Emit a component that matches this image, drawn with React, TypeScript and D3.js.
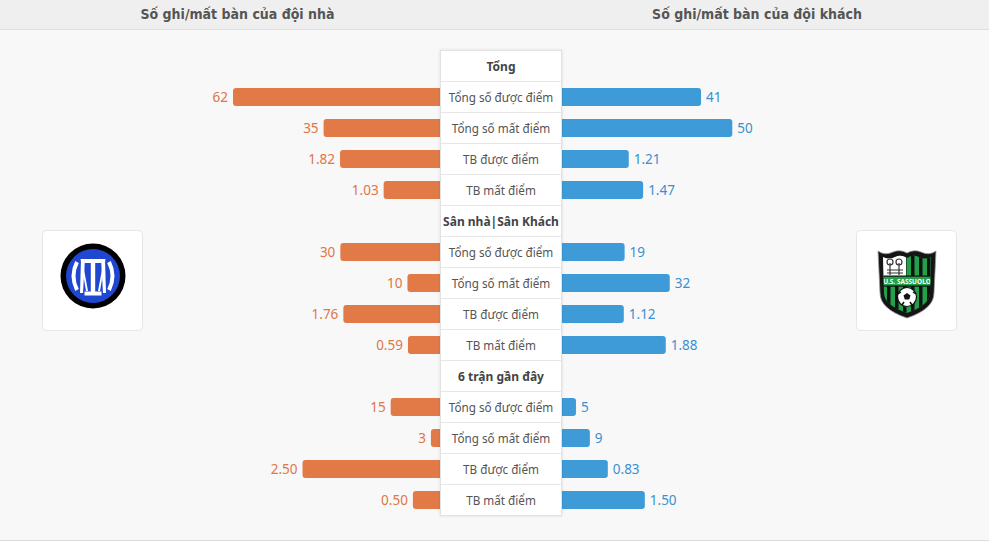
import React from "react";
import * as d3 from "d3";

const W = 989;
const H = 542;

const headerTitles = ["Số ghi/mất bàn của đội nhà", "Số ghi/mất bàn của đội khách"];
const sectionTitles = ["Tổng", "Sân nhà|Sân Khách", "6 trận gần đây"];
const metricLabels = ["Tổng số được điểm", "Tổng số mất điểm", "TB được điểm", "TB mất điểm"];
const metricIsAverage = [false, false, true, true];

const homeTotal = [62, 35, 1.82, 1.03];
const homeHomeAway = [30, 10, 1.76, 0.59];
const homeLast6 = [15, 3, 2.5, 0.5];
const awayTotal = [41, 50, 1.21, 1.47];
const awayHomeAway = [19, 32, 1.12, 1.88];
const awayLast6 = [5, 9, 0.83, 1.5];

const homeSections = [homeTotal, homeHomeAway, homeLast6];
const awaySections = [awayTotal, awayHomeAway, awayLast6];

const ORANGE = "#e27a48";
const ORANGE_TEXT = "#df7646";
const BLUE = "#3e9bd8";
const BLUE_TEXT = "#3a90d0";

const BOX_L = 440.5;
const BOX_R = 561.5;
const BOX_TOP = 50.5;
const ROW_H = 31;
const BAR_H = 18;

// scales (count values vs. averages)
const homeCountX = d3.scaleLinear().domain([0, 62]).range([441, 233]);
const awayCountX = d3.scaleLinear().domain([0, 50]).range([558.6, 732.3]);
const homeAvgX = d3.scaleLinear().domain([0, 2.5]).range([440.5, 302.5]);
const awayAvgX = d3.scaleLinear().domain([0, 2]).range([562, 672.4]);

const rowY = d3
  .scaleLinear()
  .domain([0, 1])
  .range([BOX_TOP, BOX_TOP + ROW_H]);

const FONT = "'Noto Sans', 'DejaVu Sans', sans-serif";

function InterLogo({ cx, cy }: { cx: number; cy: number }) {
  return (
    <g transform={`translate(${cx},${cy})`}>
      <circle r={32.5} fill="#000" />
      <circle r={27} fill="#1f47cf" />
      {/* central I */}
      <rect x={-8.5} y={-17} width={17} height={4} fill="#fff" />
      <rect x={-2.2} y={-17} width={4.4} height={36} fill="#fff" />
      <rect x={-8.5} y={15.5} width={17} height={4} fill="#fff" />
      {/* M diagonals */}
      <path d="M-11,-17 L-12.5,-17 L-7,15 L-5,15 Z" fill="#fff" />
      <path d="M11,-17 L12.5,-17 L7,15 L5,15 Z" fill="#fff" />
      <path d="M-12,-17 L-8,-17 L-10,17 L-13,17 Z" fill="#fff" />
      <path d="M12,-17 L8,-17 L10,17 L13,17 Z" fill="#fff" />
      {/* outer curved strokes */}
      <path d="M-16,-14 Q-23,0 -16,14" stroke="#fff" strokeWidth={4} fill="none" />
      <path d="M16,-14 Q23,0 16,14" stroke="#fff" strokeWidth={4} fill="none" />
    </g>
  );
}

function SassuoloLogo({ cx, cy }: { cx: number; cy: number }) {
  const shield =
    "M-29,-30 Q-22,-25 -14,-29 Q-7,-32 0,-28 Q7,-32 14,-29 Q22,-25 29,-30 L27,12 Q27,28 0,37 Q-27,28 -27,12 Z";
  const inner =
    "M-24,-24 Q-18,-21 -12,-24 Q-6,-27 0,-23 Q6,-27 12,-24 Q18,-21 24,-24 L23,12 Q23,24 0,32 Q-23,24 -23,12 Z";
  const stripes = [-20, -12, -4, 4, 12, 20];
  return (
    <g transform={`translate(${cx},${cy})`}>
      <path d={shield} fill="#151515" stroke="#9a9a9a" strokeWidth={0.8} />
      <clipPath id="sasClip">
        <path d={inner} />
      </clipPath>
      <g clipPath="url(#sasClip)">
        <rect x={-25} y={-30} width={50} height={64} fill="#23a04b" />
        {stripes.map((s, i) => (
          <rect key={i} x={s} y={-30} width={3.5} height={64} fill="#111" />
        ))}
        <rect x={-25} y={-30} width={24} height={25} fill="#fff" />
        <path d="M-17,-18 L-17,-6 M-8,-18 L-8,-6 M-20,-8 L-4,-8 M-20,-11 L-4,-11" stroke="#333" strokeWidth={1.2} />
        <circle cx={-17} cy={-19} r={3} fill="none" stroke="#333" strokeWidth={1.2} />
        <circle cx={-8} cy={-19} r={3} fill="none" stroke="#333" strokeWidth={1.2} />
        <rect x={-25} y={-5} width={50} height={10} fill="#23a04b" />
        <rect x={-25} y={-5.5} width={50} height={1.2} fill="#111" />
        <rect x={-25} y={4.5} width={50} height={1.2} fill="#111" />
        <text x={0} y={2.8} fontSize={6.5} fontWeight="bold" fill="#fff" textAnchor="middle" fontFamily={FONT}>
          U.S. SASSUOLO
        </text>
      </g>
      <circle cx={0} cy={16} r={9.5} fill="#fff" stroke="#111" strokeWidth={1.2} />
      <path d="M0,12 L3.5,14.5 L2.2,18.5 L-2.2,18.5 L-3.5,14.5 Z" fill="#111" />
      <path d="M-9,13 L-6,11 M9,13 L6,11 M-5,24 L-3,21 M5,24 L3,21" stroke="#111" strokeWidth={1.5} />
    </g>
  );
}

export default function App() {
  const rows: Array<{ type: "section" | "metric"; label: string; s: number; m: number }> = [];
  sectionTitles.forEach((t, s) => {
    rows.push({ type: "section", label: t, s, m: -1 });
    metricLabels.forEach((ml, m) => rows.push({ type: "metric", label: ml, s, m }));
  });

  const fmt = (v: number, avg: boolean) => (avg ? d3.format(".2f")(v) : d3.format("d")(v));

  return (
    <div>
      <style>{`body{margin:0;}`}</style>
      <svg width={W} height={H} style={{ display: "block" }}>
        <defs>
          <filter id="boxShadow" x="-20%" y="-5%" width="140%" height="110%">
            <feDropShadow dx={0} dy={0} stdDeviation={1.5} floodColor="#000" floodOpacity={0.12} />
          </filter>
        </defs>
        <rect x={0} y={0} width={W} height={H} fill="#f8f8f8" />
        <rect x={0} y={0} width={W} height={29.5} fill="#efefef" />
        <line x1={0} x2={W} y1={29.5} y2={29.5} stroke="#e0e0e0" />
        <line x1={0} x2={W} y1={540.5} y2={540.5} stroke="#dcdcdc" />
        <rect x={0} y={541} width={W} height={1} fill="#fff" />
        <text x={237.5} y={19} textAnchor="middle" fontSize={14} fontWeight="bold" fill="#555" fontFamily="'Liberation Sans Narrow', 'DejaVu Sans Condensed', sans-serif">
          {headerTitles[0]}
        </text>
        <text x={757} y={19} textAnchor="middle" fontSize={14} fontWeight="bold" fill="#555" fontFamily="'Liberation Sans Narrow', 'DejaVu Sans Condensed', sans-serif">
          {headerTitles[1]}
        </text>

        {/* bars */}
        {rows.map((r, i) => {
          if (r.type !== "metric") return null;
          const cy = rowY(i) + ROW_H / 2;
          const avg = metricIsAverage[r.m];
          const hv = homeSections[r.s][r.m];
          const av = awaySections[r.s][r.m];
          const hx = avg ? homeAvgX : homeCountX;
          const ax = avg ? awayAvgX : awayCountX;
          const hLeft = hx(hv);
          const aRight = ax(av);
          return (
            <g key={`b${i}`}>
              <rect x={hLeft} y={cy - BAR_H / 2} width={hx(0) - hLeft + 4} height={BAR_H} rx={3} fill={ORANGE} />
              <rect x={ax(0) - 4} y={cy - BAR_H / 2} width={aRight - ax(0) + 4} height={BAR_H} rx={3} fill={BLUE} />
              <text x={hLeft - 5} y={cy + 5} textAnchor="end" fontSize={13.5} fill={ORANGE_TEXT} fontFamily={FONT}>
                {fmt(hv, avg)}
              </text>
              <text x={aRight + 5} y={cy + 5} textAnchor="start" fontSize={13.5} fill={BLUE_TEXT} fontFamily={FONT}>
                {fmt(av, avg)}
              </text>
            </g>
          );
        })}

        {/* center table */}
        <rect
          x={BOX_L}
          y={BOX_TOP}
          width={BOX_R - BOX_L}
          height={ROW_H * rows.length}
          fill="#fff"
          stroke="#e2e2e2"
          filter="url(#boxShadow)"
        />
        {rows.map((r, i) => {
          const y0 = rowY(i);
          const cy = y0 + ROW_H / 2;
          return (
            <g key={`r${i}`}>
              {i > 0 && <line x1={BOX_L} x2={BOX_R} y1={y0} y2={y0} stroke="#e6e6e6" />}
              <text
                x={(BOX_L + BOX_R) / 2}
                y={cy + 4.5}
                textAnchor="middle"
                fontSize={r.type === "section" ? 12 : 11.7}
                fontWeight={r.type === "section" ? "bold" : "normal"}
                fill={r.type === "section" ? "#444" : "#555"}
                fontFamily={FONT}
              >
                {r.label}
              </text>
            </g>
          );
        })}

        {/* logos */}
        <rect x={42.5} y={230.5} width={100} height={100} rx={4} fill="#fff" stroke="#e6e6e6" />
        <InterLogo cx={93} cy={276} />
        <rect x={856.5} y={230.5} width={100} height={100} rx={4} fill="#fff" stroke="#e6e6e6" />
        <SassuoloLogo cx={907} cy={281} />
      </svg>
    </div>
  );
}
